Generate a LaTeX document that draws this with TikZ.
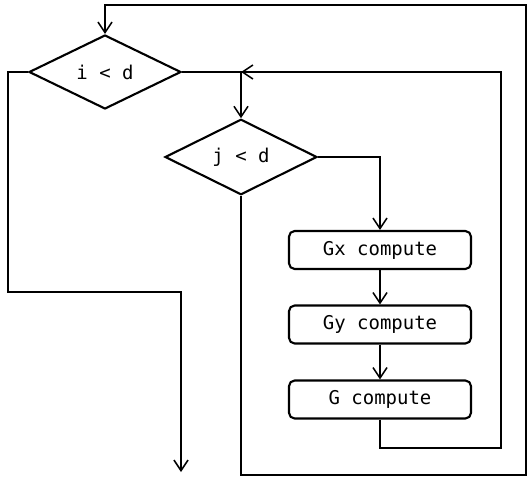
\documentclass[tikz,border=0pt]{standalone}
\usepackage{fontspec}
\setmonofont{DejaVu Sans Mono}
\usetikzlibrary{positioning, shapes.geometric, arrows.meta}

\begin{document}
\begin{tikzpicture}[
        cond/.style={diamond, draw, line width=1.5pt, minimum width=3.8cm, minimum height=1.85cm, inner sep=0pt, font=\ttfamily\fontsize{13.5}{15}\selectfont},
        task/.style={rectangle, rounded corners=4pt, draw, line width=1.5pt, minimum width=4.55cm, minimum height=0.95cm, font=\ttfamily\fontsize{13.5}{15}\selectfont},
        flow/.style={line width=1.1pt},
        >={Straight Barb[length=7.5pt,width=10pt]}
    ]
            \useasboundingbox (0,0) rectangle (13.2,-11.925);

            %Nodes
            \node[cond] at (2.625,-1.8) (Id) {i < d};
            \node[cond] at (6.025,-3.925) (Jd) {j < d};
            \node[task] at (9.5,-6.25) (Gx) {Gx compute};
            \node[task] at (9.5,-8.1125) (Gy) {Gy compute};
            \node[task] at (9.5,-9.9875) (G) {G compute};
            \coordinate (join) at (Jd |- Id);
            \coordinate (out) at (4.525,-11.8);

            %Lines
            \draw[flow,->] (Id.east) -- (join) -- (Jd.north);
            \draw[flow,->] (Jd.east) -| (Gx.north);
            \draw[flow,->] (Gx) -- (Gy);
            \draw[flow,->] (Gy) -- (G);
            \draw[flow,->] (G.south) |- (12.525,-11.2) |- (join);
            \draw[flow,->] (Jd.south) |- (13.15,-11.875) |- (2.625,-0.125) -- (Id.north);
            \draw[flow,->] (Id.west) -| (0.2,-7.3) -| (out);
        \end{tikzpicture}
\end{document}
